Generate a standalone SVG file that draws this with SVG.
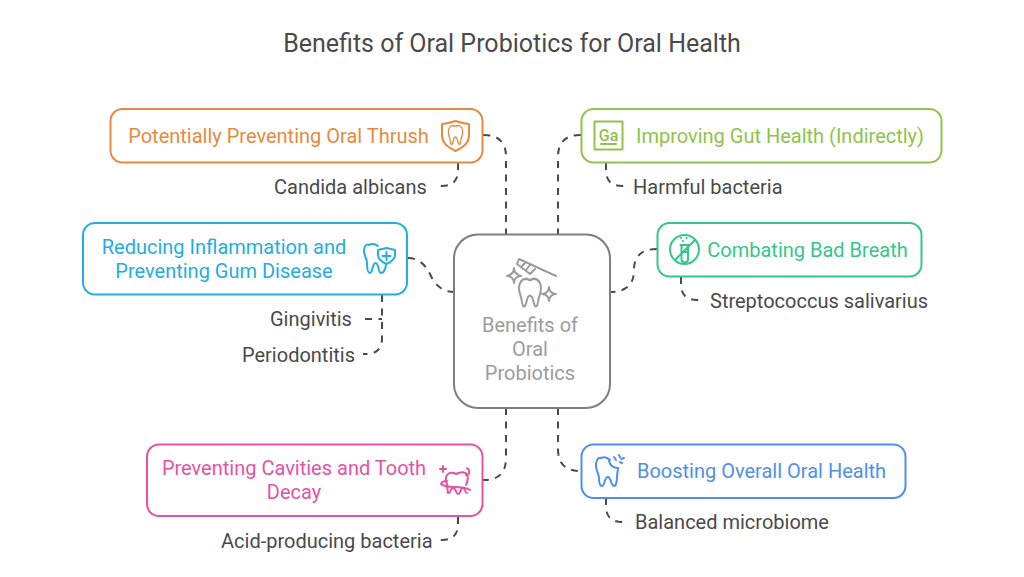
<svg xmlns="http://www.w3.org/2000/svg" width="1024" height="577" viewBox="0 0 1024 577">
<style>
text{font-family:Roboto,"Liberation Sans",sans-serif}
.t{font-size:20px;text-anchor:middle}
.l{font-size:20px;fill:#4a4a4a}
.box{fill:#fff;stroke-width:2}
.c{fill:none;stroke:#4a4a4a;stroke-width:2;stroke-dasharray:7 6.500}
.i{fill:none;stroke-width:2;stroke-linecap:round;stroke-linejoin:round}
.i use,.i path{vector-effect:non-scaling-stroke}
</style>
<defs>
<path id="tooth" d="M-4-11C-8-11-11-8-11-3C-11 1-9 3-8.500 6C-8 9-7.500 12-6 12C-3 12-4 3 0 3C4 3 3 12 6 12C7.500 12 8 9 8.500 6C9 3 11 1 11-3C11-8 8-11 4-11C2-11 1-10 0-10C-1-10-2-11-4-11Z"/>
</defs>
<rect width="1024" height="577" fill="#fff"/>
<text x="512" y="52" text-anchor="middle" style="font-size:25px" fill="#4a4a4a">Benefits of Oral Probiotics for Oral Health</text>
<g id="connectors">
<path class="c" d="M483 135H484Q506 135 506 157V234"/>
<path class="c" d="M581 135H580Q558 135 558 157V234"/>
<path class="c" d="M408 258Q422 258 430 274Q438 292 454 292"/>
<path class="c" d="M657 249Q634 249 634 270Q634 292 610 292"/>
<path class="c" d="M506 408V458Q506 480 484 480H483"/>
<path class="c" d="M558 408V449Q558 471 580 471H581"/>
<path class="c" d="M458 163V170Q458 186 442 186H439"/>
<path class="c" d="M606 163V170Q606 186 622 186H625"/>
<path class="c" d="M382 295V338Q382 354 366 354H363"/>
<path class="c" d="M365 319H382"/>
<path class="c" d="M681 277V284Q681 300 697 300H702"/>
<path class="c" d="M458 517V524Q458 540 442 540H439"/>
<path class="c" d="M606 498V506Q606 522 622 522H627"/>
</g>
<g id="center">
<rect x="454" y="234.500" width="156" height="173.500" rx="24" class="box" stroke="#7f7f7f"/>
<g class="i" stroke="#9c9c9c">
<use href="#tooth" transform="translate(530 292) scale(1 1.200)"/>
<path d="M519 259L556 276M519 259L517 264L530 274L535 269M522 266L526 262M526 270L530 265"/>
<path d="M514 268C514 272 517 275 521 276C517 276 514 279 514 283C514 279 511 276 507 276C511 275 514 272 514 268Z"/>
<path d="M549 287C549 291 552 294 556 294C552 294 549 297 549 301C549 297 546 294 542 294C546 294 549 291 549 287Z"/>
</g>
<text x="530" y="332" class="t" fill="#9c9c9c">Benefits of</text>
<text x="530" y="356" class="t" fill="#9c9c9c">Oral</text>
<text x="530" y="380" class="t" fill="#9c9c9c">Probiotics</text>
</g>
<g id="thrush">
<rect x="110.500" y="109" width="372" height="53.500" rx="12" class="box" stroke="#e58a3c"/>
<text x="278.500" y="143" class="t" fill="#e58a3c">Potentially Preventing Oral Thrush</text>
<g class="i" stroke="#e58a3c">
<path d="M442 124C447 124 451 122 455.500 121C460 122 464 124 469 124V136C469 143 462 148 455.500 151C449 148 442 143 442 136Z"/>
<use href="#tooth" transform="translate(455.500 134.500) scale(.65 .82)"/>
</g>
</g>
<g id="gut">
<rect x="581.500" y="109" width="360" height="53.500" rx="12" class="box" stroke="#8fc34a"/>
<text x="780" y="143" class="t" fill="#8fc34a">Improving Gut Health (Indirectly)</text>
<rect x="594.500" y="121.500" width="28" height="28" class="i" stroke="#8fc34a"/>
<text x="608.500" y="141" text-anchor="middle" style="font-size:16px;font-weight:500" fill="#8fc34a">Ga</text>
<path d="M601 144H616" class="i" stroke="#8fc34a"/>
</g>
<g id="inflammation">
<rect x="83" y="223" width="324" height="71.500" rx="12" class="box" stroke="#23aee0"/>
<text x="224" y="254" class="t" fill="#23aee0">Reducing Inflammation and</text>
<text x="224" y="278" class="t" fill="#23aee0">Preventing Gum Disease</text>
<g class="i" stroke="#23aee0">
<path d="M378 246C374 243 371 244 369 245C366 243 364 247 364 251C364 256 367 258 367 263C367 268 368 273 370 273C373 273 372 263 375.500 263C379 263 378 273 381 273C384 273 386 268 386 264"/>
<path d="M378 250L386.500 248L395 250V255C395 259 391 262 386.500 264C382 262 378 259 378 255Z" fill="#fff"/>
<path d="M386.500 252V260M382.500 256H390.500"/>
</g>
</g>
<g id="breath">
<rect x="657.500" y="223" width="264" height="53.500" rx="12" class="box" stroke="#35c68a"/>
<text x="807.500" y="257" class="t" fill="#35c68a">Combating Bad Breath</text>
<g class="i" stroke="#35c68a">
<circle cx="684.500" cy="249.500" r="14.500"/>
<path d="M675 260L695 240"/>
<path d="M681.500 245V259C681.500 263.500 688 263.500 688 259V245M680.500 245H689M681.500 252H688"/>
<path d="M683 241H683.100M686.500 238H686.600M681 238H681.100"/>
</g>
</g>
<g id="cavities">
<rect x="147" y="444.500" width="335.500" height="71.500" rx="12" class="box" stroke="#e452a8"/>
<text x="294" y="475" class="t" fill="#e452a8">Preventing Cavities and Tooth</text>
<text x="294" y="499" class="t" fill="#e452a8">Decay</text>
<g class="i" stroke="#e452a8">
<path d="M447 475C450 471 454 473 456 474C460 472 465 471 467 475C469 479 467 482 466 485M447 475C445 479 446 482 447 484C448 487 447 491 448 493C451 494 450 488 453 488C456 488 456 494 458 494C461 494 460 488 463 488C465 488 465 493 467 493"/>
<path d="M441 484C442 481 445 481 447 481M441 484C448 490 460 484 470 490M466 475C470 475 470 470 467 468M443 466V472M440 469H446"/>
</g>
</g>
<g id="overall">
<rect x="581.500" y="444.500" width="324" height="53.500" rx="12" class="box" stroke="#4f8fe8"/>
<text x="761.500" y="478" class="t" fill="#4f8fe8">Boosting Overall Oral Health</text>
<g class="i" stroke="#4f8fe8">
<path d="M610 460C606 456 603 457 601 458C597 457 596 462 596 466C596 471 599 474 599 478C599 482 600 486 602 486C605 486 604 477 608 477C611 477 611 486 614 486C616 486 617 481 617 477C617 473 618 471 618 468"/>
<path d="M609 461C610 465 613 468 618 468M614 457L616 460M619 455L620 457M622 463L620 462M621 459L624 458"/>
</g>
</g>
<g id="labels">
<text x="274" y="194" class="l">Candida albicans</text>
<text x="633" y="194" class="l">Harmful bacteria</text>
<text x="270" y="326" class="l">Gingivitis</text>
<text x="242" y="362" class="l">Periodontitis</text>
<text x="710" y="308" class="l">Streptococcus salivarius</text>
<text x="221" y="548" class="l">Acid-producing bacteria</text>
<text x="635" y="529" class="l">Balanced microbiome</text>
</g>
</svg>
